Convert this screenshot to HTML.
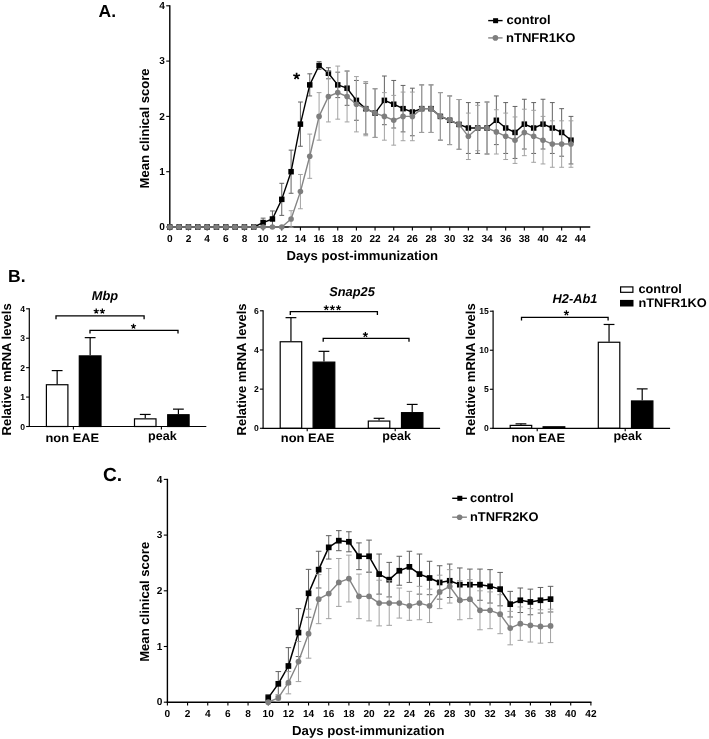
<!DOCTYPE html><html><head><meta charset="utf-8"><style>html,body{margin:0;padding:0;background:#fff;}svg{display:block;will-change:transform;}text{font-family:"Liberation Sans", sans-serif;text-rendering:geometricPrecision;}</style></head><body>
<svg width="709" height="739" viewBox="0 0 709 739">
<rect width="709" height="739" fill="#fff"/>
<text x="98.5" y="16.6" font-size="17.5" text-anchor="start" font-weight="bold">A.</text>
<line x1="169.8" y1="5.2" x2="169.8" y2="227.7" stroke="#000" stroke-width="1.4"/>
<line x1="169.1" y1="227" x2="590.25" y2="227" stroke="#000" stroke-width="1.4"/>
<line x1="166.2" y1="227" x2="169.8" y2="227" stroke="#000" stroke-width="1.1"/>
<text x="164.8" y="230.2" font-size="10.1" text-anchor="end" font-weight="bold">0</text>
<line x1="166.2" y1="171.7" x2="169.8" y2="171.7" stroke="#000" stroke-width="1.1"/>
<text x="164.8" y="174.9" font-size="10.1" text-anchor="end" font-weight="bold">1</text>
<line x1="166.2" y1="116.4" x2="169.8" y2="116.4" stroke="#000" stroke-width="1.1"/>
<text x="164.8" y="119.6" font-size="10.1" text-anchor="end" font-weight="bold">2</text>
<line x1="166.2" y1="61.1" x2="169.8" y2="61.1" stroke="#000" stroke-width="1.1"/>
<text x="164.8" y="64.3" font-size="10.1" text-anchor="end" font-weight="bold">3</text>
<line x1="166.2" y1="5.8" x2="169.8" y2="5.8" stroke="#000" stroke-width="1.1"/>
<text x="164.8" y="9" font-size="10.1" text-anchor="end" font-weight="bold">4</text>
<line x1="169.8" y1="227" x2="169.8" y2="230.4" stroke="#000" stroke-width="1.1"/>
<text x="169.8" y="241.8" font-size="10.1" text-anchor="middle" font-weight="bold">0</text>
<line x1="188.46" y1="227" x2="188.46" y2="230.4" stroke="#000" stroke-width="1.1"/>
<text x="188.46" y="241.8" font-size="10.1" text-anchor="middle" font-weight="bold">2</text>
<line x1="207.12" y1="227" x2="207.12" y2="230.4" stroke="#000" stroke-width="1.1"/>
<text x="207.12" y="241.8" font-size="10.1" text-anchor="middle" font-weight="bold">4</text>
<line x1="225.78" y1="227" x2="225.78" y2="230.4" stroke="#000" stroke-width="1.1"/>
<text x="225.78" y="241.8" font-size="10.1" text-anchor="middle" font-weight="bold">6</text>
<line x1="244.44" y1="227" x2="244.44" y2="230.4" stroke="#000" stroke-width="1.1"/>
<text x="244.44" y="241.8" font-size="10.1" text-anchor="middle" font-weight="bold">8</text>
<line x1="263.1" y1="227" x2="263.1" y2="230.4" stroke="#000" stroke-width="1.1"/>
<text x="263.1" y="241.8" font-size="10.1" text-anchor="middle" font-weight="bold">10</text>
<line x1="281.76" y1="227" x2="281.76" y2="230.4" stroke="#000" stroke-width="1.1"/>
<text x="281.76" y="241.8" font-size="10.1" text-anchor="middle" font-weight="bold">12</text>
<line x1="300.42" y1="227" x2="300.42" y2="230.4" stroke="#000" stroke-width="1.1"/>
<text x="300.42" y="241.8" font-size="10.1" text-anchor="middle" font-weight="bold">14</text>
<line x1="319.08" y1="227" x2="319.08" y2="230.4" stroke="#000" stroke-width="1.1"/>
<text x="319.08" y="241.8" font-size="10.1" text-anchor="middle" font-weight="bold">16</text>
<line x1="337.74" y1="227" x2="337.74" y2="230.4" stroke="#000" stroke-width="1.1"/>
<text x="337.74" y="241.8" font-size="10.1" text-anchor="middle" font-weight="bold">18</text>
<line x1="356.4" y1="227" x2="356.4" y2="230.4" stroke="#000" stroke-width="1.1"/>
<text x="356.4" y="241.8" font-size="10.1" text-anchor="middle" font-weight="bold">20</text>
<line x1="375.06" y1="227" x2="375.06" y2="230.4" stroke="#000" stroke-width="1.1"/>
<text x="375.06" y="241.8" font-size="10.1" text-anchor="middle" font-weight="bold">22</text>
<line x1="393.72" y1="227" x2="393.72" y2="230.4" stroke="#000" stroke-width="1.1"/>
<text x="393.72" y="241.8" font-size="10.1" text-anchor="middle" font-weight="bold">24</text>
<line x1="412.38" y1="227" x2="412.38" y2="230.4" stroke="#000" stroke-width="1.1"/>
<text x="412.38" y="241.8" font-size="10.1" text-anchor="middle" font-weight="bold">26</text>
<line x1="431.04" y1="227" x2="431.04" y2="230.4" stroke="#000" stroke-width="1.1"/>
<text x="431.04" y="241.8" font-size="10.1" text-anchor="middle" font-weight="bold">28</text>
<line x1="449.7" y1="227" x2="449.7" y2="230.4" stroke="#000" stroke-width="1.1"/>
<text x="449.7" y="241.8" font-size="10.1" text-anchor="middle" font-weight="bold">30</text>
<line x1="468.36" y1="227" x2="468.36" y2="230.4" stroke="#000" stroke-width="1.1"/>
<text x="468.36" y="241.8" font-size="10.1" text-anchor="middle" font-weight="bold">32</text>
<line x1="487.02" y1="227" x2="487.02" y2="230.4" stroke="#000" stroke-width="1.1"/>
<text x="487.02" y="241.8" font-size="10.1" text-anchor="middle" font-weight="bold">34</text>
<line x1="505.68" y1="227" x2="505.68" y2="230.4" stroke="#000" stroke-width="1.1"/>
<text x="505.68" y="241.8" font-size="10.1" text-anchor="middle" font-weight="bold">36</text>
<line x1="524.34" y1="227" x2="524.34" y2="230.4" stroke="#000" stroke-width="1.1"/>
<text x="524.34" y="241.8" font-size="10.1" text-anchor="middle" font-weight="bold">38</text>
<line x1="543" y1="227" x2="543" y2="230.4" stroke="#000" stroke-width="1.1"/>
<text x="543" y="241.8" font-size="10.1" text-anchor="middle" font-weight="bold">40</text>
<line x1="561.66" y1="227" x2="561.66" y2="230.4" stroke="#000" stroke-width="1.1"/>
<text x="561.66" y="241.8" font-size="10.1" text-anchor="middle" font-weight="bold">42</text>
<line x1="580.32" y1="227" x2="580.32" y2="230.4" stroke="#000" stroke-width="1.1"/>
<text x="580.32" y="241.8" font-size="10.1" text-anchor="middle" font-weight="bold">44</text>
<line x1="263.1" y1="218.15" x2="263.1" y2="227" stroke="#626262" stroke-width="1"/>
<line x1="260.7" y1="218.15" x2="265.5" y2="218.15" stroke="#626262" stroke-width="1"/>
<line x1="260.7" y1="227" x2="265.5" y2="227" stroke="#626262" stroke-width="1"/>
<line x1="272.43" y1="210.96" x2="272.43" y2="227" stroke="#626262" stroke-width="1"/>
<line x1="270.03" y1="210.96" x2="274.83" y2="210.96" stroke="#626262" stroke-width="1"/>
<line x1="270.03" y1="227" x2="274.83" y2="227" stroke="#626262" stroke-width="1"/>
<line x1="281.76" y1="183.31" x2="281.76" y2="215.39" stroke="#626262" stroke-width="1"/>
<line x1="279.36" y1="183.31" x2="284.16" y2="183.31" stroke="#626262" stroke-width="1"/>
<line x1="279.36" y1="215.39" x2="284.16" y2="215.39" stroke="#626262" stroke-width="1"/>
<line x1="291.09" y1="150.13" x2="291.09" y2="193.27" stroke="#626262" stroke-width="1"/>
<line x1="288.69" y1="150.13" x2="293.49" y2="150.13" stroke="#626262" stroke-width="1"/>
<line x1="288.69" y1="193.27" x2="293.49" y2="193.27" stroke="#626262" stroke-width="1"/>
<line x1="300.42" y1="102.02" x2="300.42" y2="146.26" stroke="#626262" stroke-width="1"/>
<line x1="298.02" y1="102.02" x2="302.82" y2="102.02" stroke="#626262" stroke-width="1"/>
<line x1="298.02" y1="146.26" x2="302.82" y2="146.26" stroke="#626262" stroke-width="1"/>
<line x1="309.75" y1="73.82" x2="309.75" y2="95.94" stroke="#626262" stroke-width="1"/>
<line x1="307.35" y1="73.82" x2="312.15" y2="73.82" stroke="#626262" stroke-width="1"/>
<line x1="307.35" y1="95.94" x2="312.15" y2="95.94" stroke="#626262" stroke-width="1"/>
<line x1="319.08" y1="61.65" x2="319.08" y2="69.39" stroke="#626262" stroke-width="1"/>
<line x1="316.68" y1="61.65" x2="321.48" y2="61.65" stroke="#626262" stroke-width="1"/>
<line x1="316.68" y1="69.39" x2="321.48" y2="69.39" stroke="#626262" stroke-width="1"/>
<line x1="328.41" y1="67.74" x2="328.41" y2="78.8" stroke="#626262" stroke-width="1"/>
<line x1="326.01" y1="67.74" x2="330.81" y2="67.74" stroke="#626262" stroke-width="1"/>
<line x1="326.01" y1="78.8" x2="330.81" y2="78.8" stroke="#626262" stroke-width="1"/>
<line x1="337.74" y1="72.16" x2="337.74" y2="97.6" stroke="#626262" stroke-width="1"/>
<line x1="335.34" y1="72.16" x2="340.14" y2="72.16" stroke="#626262" stroke-width="1"/>
<line x1="335.34" y1="97.6" x2="340.14" y2="97.6" stroke="#626262" stroke-width="1"/>
<line x1="347.07" y1="71.05" x2="347.07" y2="105.34" stroke="#626262" stroke-width="1"/>
<line x1="344.67" y1="71.05" x2="349.47" y2="71.05" stroke="#626262" stroke-width="1"/>
<line x1="344.67" y1="105.34" x2="349.47" y2="105.34" stroke="#626262" stroke-width="1"/>
<line x1="356.4" y1="80.45" x2="356.4" y2="120.27" stroke="#626262" stroke-width="1"/>
<line x1="354" y1="80.45" x2="358.8" y2="80.45" stroke="#626262" stroke-width="1"/>
<line x1="354" y1="120.27" x2="358.8" y2="120.27" stroke="#626262" stroke-width="1"/>
<line x1="365.73" y1="83.22" x2="365.73" y2="134.1" stroke="#626262" stroke-width="1"/>
<line x1="363.33" y1="83.22" x2="368.13" y2="83.22" stroke="#626262" stroke-width="1"/>
<line x1="363.33" y1="134.1" x2="368.13" y2="134.1" stroke="#626262" stroke-width="1"/>
<line x1="375.06" y1="88.75" x2="375.06" y2="137.41" stroke="#626262" stroke-width="1"/>
<line x1="372.66" y1="88.75" x2="377.46" y2="88.75" stroke="#626262" stroke-width="1"/>
<line x1="372.66" y1="137.41" x2="377.46" y2="137.41" stroke="#626262" stroke-width="1"/>
<line x1="384.39" y1="76.03" x2="384.39" y2="124.69" stroke="#626262" stroke-width="1"/>
<line x1="381.99" y1="76.03" x2="386.79" y2="76.03" stroke="#626262" stroke-width="1"/>
<line x1="381.99" y1="124.69" x2="386.79" y2="124.69" stroke="#626262" stroke-width="1"/>
<line x1="393.72" y1="80.45" x2="393.72" y2="128.01" stroke="#626262" stroke-width="1"/>
<line x1="391.32" y1="80.45" x2="396.12" y2="80.45" stroke="#626262" stroke-width="1"/>
<line x1="391.32" y1="128.01" x2="396.12" y2="128.01" stroke="#626262" stroke-width="1"/>
<line x1="403.05" y1="85.43" x2="403.05" y2="131.88" stroke="#626262" stroke-width="1"/>
<line x1="400.65" y1="85.43" x2="405.45" y2="85.43" stroke="#626262" stroke-width="1"/>
<line x1="400.65" y1="131.88" x2="405.45" y2="131.88" stroke="#626262" stroke-width="1"/>
<line x1="412.38" y1="88.2" x2="412.38" y2="135.75" stroke="#626262" stroke-width="1"/>
<line x1="409.98" y1="88.2" x2="414.78" y2="88.2" stroke="#626262" stroke-width="1"/>
<line x1="409.98" y1="135.75" x2="414.78" y2="135.75" stroke="#626262" stroke-width="1"/>
<line x1="421.71" y1="84.88" x2="421.71" y2="132.44" stroke="#626262" stroke-width="1"/>
<line x1="419.31" y1="84.88" x2="424.11" y2="84.88" stroke="#626262" stroke-width="1"/>
<line x1="419.31" y1="132.44" x2="424.11" y2="132.44" stroke="#626262" stroke-width="1"/>
<line x1="431.04" y1="84.88" x2="431.04" y2="132.44" stroke="#626262" stroke-width="1"/>
<line x1="428.64" y1="84.88" x2="433.44" y2="84.88" stroke="#626262" stroke-width="1"/>
<line x1="428.64" y1="132.44" x2="433.44" y2="132.44" stroke="#626262" stroke-width="1"/>
<line x1="440.37" y1="92.62" x2="440.37" y2="140.18" stroke="#626262" stroke-width="1"/>
<line x1="437.97" y1="92.62" x2="442.77" y2="92.62" stroke="#626262" stroke-width="1"/>
<line x1="437.97" y1="140.18" x2="442.77" y2="140.18" stroke="#626262" stroke-width="1"/>
<line x1="449.7" y1="95.94" x2="449.7" y2="144.6" stroke="#626262" stroke-width="1"/>
<line x1="447.3" y1="95.94" x2="452.1" y2="95.94" stroke="#626262" stroke-width="1"/>
<line x1="447.3" y1="144.6" x2="452.1" y2="144.6" stroke="#626262" stroke-width="1"/>
<line x1="459.03" y1="99.53" x2="459.03" y2="149.3" stroke="#626262" stroke-width="1"/>
<line x1="456.63" y1="99.53" x2="461.43" y2="99.53" stroke="#626262" stroke-width="1"/>
<line x1="456.63" y1="149.3" x2="461.43" y2="149.3" stroke="#626262" stroke-width="1"/>
<line x1="468.36" y1="102.58" x2="468.36" y2="153.45" stroke="#626262" stroke-width="1"/>
<line x1="465.96" y1="102.58" x2="470.76" y2="102.58" stroke="#626262" stroke-width="1"/>
<line x1="465.96" y1="153.45" x2="470.76" y2="153.45" stroke="#626262" stroke-width="1"/>
<line x1="477.69" y1="102.58" x2="477.69" y2="153.45" stroke="#626262" stroke-width="1"/>
<line x1="475.29" y1="102.58" x2="480.09" y2="102.58" stroke="#626262" stroke-width="1"/>
<line x1="475.29" y1="153.45" x2="480.09" y2="153.45" stroke="#626262" stroke-width="1"/>
<line x1="487.02" y1="102.02" x2="487.02" y2="154" stroke="#626262" stroke-width="1"/>
<line x1="484.62" y1="102.02" x2="489.42" y2="102.02" stroke="#626262" stroke-width="1"/>
<line x1="484.62" y1="154" x2="489.42" y2="154" stroke="#626262" stroke-width="1"/>
<line x1="496.35" y1="95.94" x2="496.35" y2="144.6" stroke="#626262" stroke-width="1"/>
<line x1="493.95" y1="95.94" x2="498.75" y2="95.94" stroke="#626262" stroke-width="1"/>
<line x1="493.95" y1="144.6" x2="498.75" y2="144.6" stroke="#626262" stroke-width="1"/>
<line x1="505.68" y1="102.58" x2="505.68" y2="153.45" stroke="#626262" stroke-width="1"/>
<line x1="503.28" y1="102.58" x2="508.08" y2="102.58" stroke="#626262" stroke-width="1"/>
<line x1="503.28" y1="153.45" x2="508.08" y2="153.45" stroke="#626262" stroke-width="1"/>
<line x1="515.01" y1="106.45" x2="515.01" y2="158.43" stroke="#626262" stroke-width="1"/>
<line x1="512.61" y1="106.45" x2="517.41" y2="106.45" stroke="#626262" stroke-width="1"/>
<line x1="512.61" y1="158.43" x2="517.41" y2="158.43" stroke="#626262" stroke-width="1"/>
<line x1="524.34" y1="99.26" x2="524.34" y2="149.03" stroke="#626262" stroke-width="1"/>
<line x1="521.94" y1="99.26" x2="526.74" y2="99.26" stroke="#626262" stroke-width="1"/>
<line x1="521.94" y1="149.03" x2="526.74" y2="149.03" stroke="#626262" stroke-width="1"/>
<line x1="533.67" y1="102.58" x2="533.67" y2="153.45" stroke="#626262" stroke-width="1"/>
<line x1="531.27" y1="102.58" x2="536.07" y2="102.58" stroke="#626262" stroke-width="1"/>
<line x1="531.27" y1="153.45" x2="536.07" y2="153.45" stroke="#626262" stroke-width="1"/>
<line x1="543" y1="99.26" x2="543" y2="149.03" stroke="#626262" stroke-width="1"/>
<line x1="540.6" y1="99.26" x2="545.4" y2="99.26" stroke="#626262" stroke-width="1"/>
<line x1="540.6" y1="149.03" x2="545.4" y2="149.03" stroke="#626262" stroke-width="1"/>
<line x1="552.33" y1="102.58" x2="552.33" y2="153.45" stroke="#626262" stroke-width="1"/>
<line x1="549.93" y1="102.58" x2="554.73" y2="102.58" stroke="#626262" stroke-width="1"/>
<line x1="549.93" y1="153.45" x2="554.73" y2="153.45" stroke="#626262" stroke-width="1"/>
<line x1="561.66" y1="108.66" x2="561.66" y2="156.22" stroke="#626262" stroke-width="1"/>
<line x1="559.26" y1="108.66" x2="564.06" y2="108.66" stroke="#626262" stroke-width="1"/>
<line x1="559.26" y1="156.22" x2="564.06" y2="156.22" stroke="#626262" stroke-width="1"/>
<line x1="570.99" y1="116.4" x2="570.99" y2="163.96" stroke="#626262" stroke-width="1"/>
<line x1="568.59" y1="116.4" x2="573.39" y2="116.4" stroke="#626262" stroke-width="1"/>
<line x1="568.59" y1="163.96" x2="573.39" y2="163.96" stroke="#626262" stroke-width="1"/>
<polyline points="169.8,227 179.13,227 188.46,227 197.79,227 207.12,227 216.45,227 225.78,227 235.11,227 244.44,227 253.77,227 263.1,222.58 272.43,218.98 281.76,199.35 291.09,171.7 300.42,124.14 309.75,84.88 319.08,65.52 328.41,73.27 337.74,84.88 347.07,88.2 356.4,100.36 365.73,108.66 375.06,113.08 384.39,100.36 393.72,104.23 403.05,108.66 412.38,111.98 421.71,108.66 431.04,108.66 440.37,116.4 449.7,120.27 459.03,124.42 468.36,128.01 477.69,128.01 487.02,128.01 496.35,120.27 505.68,128.01 515.01,132.44 524.34,124.14 533.67,128.01 543,124.14 552.33,128.01 561.66,132.44 570.99,140.18" fill="none" stroke="#000" stroke-width="1.4" stroke-linejoin="round"/>
<rect x="167.05" y="224.25" width="5.5" height="5.5" fill="#000"/>
<rect x="176.38" y="224.25" width="5.5" height="5.5" fill="#000"/>
<rect x="185.71" y="224.25" width="5.5" height="5.5" fill="#000"/>
<rect x="195.04" y="224.25" width="5.5" height="5.5" fill="#000"/>
<rect x="204.37" y="224.25" width="5.5" height="5.5" fill="#000"/>
<rect x="213.7" y="224.25" width="5.5" height="5.5" fill="#000"/>
<rect x="223.03" y="224.25" width="5.5" height="5.5" fill="#000"/>
<rect x="232.36" y="224.25" width="5.5" height="5.5" fill="#000"/>
<rect x="241.69" y="224.25" width="5.5" height="5.5" fill="#000"/>
<rect x="251.02" y="224.25" width="5.5" height="5.5" fill="#000"/>
<rect x="260.35" y="219.83" width="5.5" height="5.5" fill="#000"/>
<rect x="269.68" y="216.23" width="5.5" height="5.5" fill="#000"/>
<rect x="279.01" y="196.6" width="5.5" height="5.5" fill="#000"/>
<rect x="288.34" y="168.95" width="5.5" height="5.5" fill="#000"/>
<rect x="297.67" y="121.39" width="5.5" height="5.5" fill="#000"/>
<rect x="307" y="82.13" width="5.5" height="5.5" fill="#000"/>
<rect x="316.33" y="62.77" width="5.5" height="5.5" fill="#000"/>
<rect x="325.66" y="70.52" width="5.5" height="5.5" fill="#000"/>
<rect x="334.99" y="82.13" width="5.5" height="5.5" fill="#000"/>
<rect x="344.32" y="85.45" width="5.5" height="5.5" fill="#000"/>
<rect x="353.65" y="97.61" width="5.5" height="5.5" fill="#000"/>
<rect x="362.98" y="105.91" width="5.5" height="5.5" fill="#000"/>
<rect x="372.31" y="110.33" width="5.5" height="5.5" fill="#000"/>
<rect x="381.64" y="97.61" width="5.5" height="5.5" fill="#000"/>
<rect x="390.97" y="101.48" width="5.5" height="5.5" fill="#000"/>
<rect x="400.3" y="105.91" width="5.5" height="5.5" fill="#000"/>
<rect x="409.63" y="109.23" width="5.5" height="5.5" fill="#000"/>
<rect x="418.96" y="105.91" width="5.5" height="5.5" fill="#000"/>
<rect x="428.29" y="105.91" width="5.5" height="5.5" fill="#000"/>
<rect x="437.62" y="113.65" width="5.5" height="5.5" fill="#000"/>
<rect x="446.95" y="117.52" width="5.5" height="5.5" fill="#000"/>
<rect x="456.28" y="121.67" width="5.5" height="5.5" fill="#000"/>
<rect x="465.61" y="125.26" width="5.5" height="5.5" fill="#000"/>
<rect x="474.94" y="125.26" width="5.5" height="5.5" fill="#000"/>
<rect x="484.27" y="125.26" width="5.5" height="5.5" fill="#000"/>
<rect x="493.6" y="117.52" width="5.5" height="5.5" fill="#000"/>
<rect x="502.93" y="125.26" width="5.5" height="5.5" fill="#000"/>
<rect x="512.26" y="129.69" width="5.5" height="5.5" fill="#000"/>
<rect x="521.59" y="121.39" width="5.5" height="5.5" fill="#000"/>
<rect x="530.92" y="125.26" width="5.5" height="5.5" fill="#000"/>
<rect x="540.25" y="121.39" width="5.5" height="5.5" fill="#000"/>
<rect x="549.58" y="125.26" width="5.5" height="5.5" fill="#000"/>
<rect x="558.91" y="129.69" width="5.5" height="5.5" fill="#000"/>
<rect x="568.24" y="137.43" width="5.5" height="5.5" fill="#000"/>
<line x1="291.09" y1="210.69" x2="291.09" y2="227.28" stroke="#a2a2a2" stroke-width="1"/>
<line x1="288.69" y1="210.69" x2="293.49" y2="210.69" stroke="#a2a2a2" stroke-width="1"/>
<line x1="288.69" y1="227.28" x2="293.49" y2="227.28" stroke="#a2a2a2" stroke-width="1"/>
<line x1="300.42" y1="174.47" x2="300.42" y2="208.75" stroke="#a2a2a2" stroke-width="1"/>
<line x1="298.02" y1="174.47" x2="302.82" y2="174.47" stroke="#a2a2a2" stroke-width="1"/>
<line x1="298.02" y1="208.75" x2="302.82" y2="208.75" stroke="#a2a2a2" stroke-width="1"/>
<line x1="309.75" y1="134.1" x2="309.75" y2="178.34" stroke="#a2a2a2" stroke-width="1"/>
<line x1="307.35" y1="134.1" x2="312.15" y2="134.1" stroke="#a2a2a2" stroke-width="1"/>
<line x1="307.35" y1="178.34" x2="312.15" y2="178.34" stroke="#a2a2a2" stroke-width="1"/>
<line x1="319.08" y1="92.62" x2="319.08" y2="140.18" stroke="#a2a2a2" stroke-width="1"/>
<line x1="316.68" y1="92.62" x2="321.48" y2="92.62" stroke="#a2a2a2" stroke-width="1"/>
<line x1="316.68" y1="140.18" x2="321.48" y2="140.18" stroke="#a2a2a2" stroke-width="1"/>
<line x1="328.41" y1="71.05" x2="328.41" y2="121.93" stroke="#a2a2a2" stroke-width="1"/>
<line x1="326.01" y1="71.05" x2="330.81" y2="71.05" stroke="#a2a2a2" stroke-width="1"/>
<line x1="326.01" y1="121.93" x2="330.81" y2="121.93" stroke="#a2a2a2" stroke-width="1"/>
<line x1="337.74" y1="66.08" x2="337.74" y2="119.17" stroke="#a2a2a2" stroke-width="1"/>
<line x1="335.34" y1="66.08" x2="340.14" y2="66.08" stroke="#a2a2a2" stroke-width="1"/>
<line x1="335.34" y1="119.17" x2="340.14" y2="119.17" stroke="#a2a2a2" stroke-width="1"/>
<line x1="347.07" y1="71.05" x2="347.07" y2="121.93" stroke="#a2a2a2" stroke-width="1"/>
<line x1="344.67" y1="71.05" x2="349.47" y2="71.05" stroke="#a2a2a2" stroke-width="1"/>
<line x1="344.67" y1="121.93" x2="349.47" y2="121.93" stroke="#a2a2a2" stroke-width="1"/>
<line x1="356.4" y1="76.58" x2="356.4" y2="131.88" stroke="#a2a2a2" stroke-width="1"/>
<line x1="354" y1="76.58" x2="358.8" y2="76.58" stroke="#a2a2a2" stroke-width="1"/>
<line x1="354" y1="131.88" x2="358.8" y2="131.88" stroke="#a2a2a2" stroke-width="1"/>
<line x1="365.73" y1="81.56" x2="365.73" y2="135.75" stroke="#a2a2a2" stroke-width="1"/>
<line x1="363.33" y1="81.56" x2="368.13" y2="81.56" stroke="#a2a2a2" stroke-width="1"/>
<line x1="363.33" y1="135.75" x2="368.13" y2="135.75" stroke="#a2a2a2" stroke-width="1"/>
<line x1="375.06" y1="88.75" x2="375.06" y2="137.41" stroke="#a2a2a2" stroke-width="1"/>
<line x1="372.66" y1="88.75" x2="377.46" y2="88.75" stroke="#a2a2a2" stroke-width="1"/>
<line x1="372.66" y1="137.41" x2="377.46" y2="137.41" stroke="#a2a2a2" stroke-width="1"/>
<line x1="384.39" y1="92.62" x2="384.39" y2="140.18" stroke="#a2a2a2" stroke-width="1"/>
<line x1="381.99" y1="92.62" x2="386.79" y2="92.62" stroke="#a2a2a2" stroke-width="1"/>
<line x1="381.99" y1="140.18" x2="386.79" y2="140.18" stroke="#a2a2a2" stroke-width="1"/>
<line x1="393.72" y1="95.39" x2="393.72" y2="145.16" stroke="#a2a2a2" stroke-width="1"/>
<line x1="391.32" y1="95.39" x2="396.12" y2="95.39" stroke="#a2a2a2" stroke-width="1"/>
<line x1="391.32" y1="145.16" x2="396.12" y2="145.16" stroke="#a2a2a2" stroke-width="1"/>
<line x1="403.05" y1="92.07" x2="403.05" y2="140.73" stroke="#a2a2a2" stroke-width="1"/>
<line x1="400.65" y1="92.07" x2="405.45" y2="92.07" stroke="#a2a2a2" stroke-width="1"/>
<line x1="400.65" y1="140.73" x2="405.45" y2="140.73" stroke="#a2a2a2" stroke-width="1"/>
<line x1="412.38" y1="92.07" x2="412.38" y2="140.73" stroke="#a2a2a2" stroke-width="1"/>
<line x1="409.98" y1="92.07" x2="414.78" y2="92.07" stroke="#a2a2a2" stroke-width="1"/>
<line x1="409.98" y1="140.73" x2="414.78" y2="140.73" stroke="#a2a2a2" stroke-width="1"/>
<line x1="421.71" y1="84.88" x2="421.71" y2="132.44" stroke="#a2a2a2" stroke-width="1"/>
<line x1="419.31" y1="84.88" x2="424.11" y2="84.88" stroke="#a2a2a2" stroke-width="1"/>
<line x1="419.31" y1="132.44" x2="424.11" y2="132.44" stroke="#a2a2a2" stroke-width="1"/>
<line x1="431.04" y1="84.88" x2="431.04" y2="132.44" stroke="#a2a2a2" stroke-width="1"/>
<line x1="428.64" y1="84.88" x2="433.44" y2="84.88" stroke="#a2a2a2" stroke-width="1"/>
<line x1="428.64" y1="132.44" x2="433.44" y2="132.44" stroke="#a2a2a2" stroke-width="1"/>
<line x1="440.37" y1="92.62" x2="440.37" y2="140.18" stroke="#a2a2a2" stroke-width="1"/>
<line x1="437.97" y1="92.62" x2="442.77" y2="92.62" stroke="#a2a2a2" stroke-width="1"/>
<line x1="437.97" y1="140.18" x2="442.77" y2="140.18" stroke="#a2a2a2" stroke-width="1"/>
<line x1="449.7" y1="95.94" x2="449.7" y2="144.6" stroke="#a2a2a2" stroke-width="1"/>
<line x1="447.3" y1="95.94" x2="452.1" y2="95.94" stroke="#a2a2a2" stroke-width="1"/>
<line x1="447.3" y1="144.6" x2="452.1" y2="144.6" stroke="#a2a2a2" stroke-width="1"/>
<line x1="459.03" y1="99.53" x2="459.03" y2="149.3" stroke="#a2a2a2" stroke-width="1"/>
<line x1="456.63" y1="99.53" x2="461.43" y2="99.53" stroke="#a2a2a2" stroke-width="1"/>
<line x1="456.63" y1="149.3" x2="461.43" y2="149.3" stroke="#a2a2a2" stroke-width="1"/>
<line x1="468.36" y1="113.08" x2="468.36" y2="159.53" stroke="#a2a2a2" stroke-width="1"/>
<line x1="465.96" y1="113.08" x2="470.76" y2="113.08" stroke="#a2a2a2" stroke-width="1"/>
<line x1="465.96" y1="159.53" x2="470.76" y2="159.53" stroke="#a2a2a2" stroke-width="1"/>
<line x1="477.69" y1="105.34" x2="477.69" y2="150.69" stroke="#a2a2a2" stroke-width="1"/>
<line x1="475.29" y1="105.34" x2="480.09" y2="105.34" stroke="#a2a2a2" stroke-width="1"/>
<line x1="475.29" y1="150.69" x2="480.09" y2="150.69" stroke="#a2a2a2" stroke-width="1"/>
<line x1="487.02" y1="102.02" x2="487.02" y2="154" stroke="#a2a2a2" stroke-width="1"/>
<line x1="484.62" y1="102.02" x2="489.42" y2="102.02" stroke="#a2a2a2" stroke-width="1"/>
<line x1="484.62" y1="154" x2="489.42" y2="154" stroke="#a2a2a2" stroke-width="1"/>
<line x1="496.35" y1="109.76" x2="496.35" y2="154" stroke="#a2a2a2" stroke-width="1"/>
<line x1="493.95" y1="109.76" x2="498.75" y2="109.76" stroke="#a2a2a2" stroke-width="1"/>
<line x1="493.95" y1="154" x2="498.75" y2="154" stroke="#a2a2a2" stroke-width="1"/>
<line x1="505.68" y1="113.08" x2="505.68" y2="159.53" stroke="#a2a2a2" stroke-width="1"/>
<line x1="503.28" y1="113.08" x2="508.08" y2="113.08" stroke="#a2a2a2" stroke-width="1"/>
<line x1="503.28" y1="159.53" x2="508.08" y2="159.53" stroke="#a2a2a2" stroke-width="1"/>
<line x1="515.01" y1="116.95" x2="515.01" y2="163.41" stroke="#a2a2a2" stroke-width="1"/>
<line x1="512.61" y1="116.95" x2="517.41" y2="116.95" stroke="#a2a2a2" stroke-width="1"/>
<line x1="512.61" y1="163.41" x2="517.41" y2="163.41" stroke="#a2a2a2" stroke-width="1"/>
<line x1="524.34" y1="109.21" x2="524.34" y2="155.66" stroke="#a2a2a2" stroke-width="1"/>
<line x1="521.94" y1="109.21" x2="526.74" y2="109.21" stroke="#a2a2a2" stroke-width="1"/>
<line x1="521.94" y1="155.66" x2="526.74" y2="155.66" stroke="#a2a2a2" stroke-width="1"/>
<line x1="533.67" y1="110.32" x2="533.67" y2="162.3" stroke="#a2a2a2" stroke-width="1"/>
<line x1="531.27" y1="110.32" x2="536.07" y2="110.32" stroke="#a2a2a2" stroke-width="1"/>
<line x1="531.27" y1="162.3" x2="536.07" y2="162.3" stroke="#a2a2a2" stroke-width="1"/>
<line x1="543" y1="116.4" x2="543" y2="163.96" stroke="#a2a2a2" stroke-width="1"/>
<line x1="540.6" y1="116.4" x2="545.4" y2="116.4" stroke="#a2a2a2" stroke-width="1"/>
<line x1="540.6" y1="163.96" x2="545.4" y2="163.96" stroke="#a2a2a2" stroke-width="1"/>
<line x1="552.33" y1="120.82" x2="552.33" y2="167.28" stroke="#a2a2a2" stroke-width="1"/>
<line x1="549.93" y1="120.82" x2="554.73" y2="120.82" stroke="#a2a2a2" stroke-width="1"/>
<line x1="549.93" y1="167.28" x2="554.73" y2="167.28" stroke="#a2a2a2" stroke-width="1"/>
<line x1="561.66" y1="120.82" x2="561.66" y2="167.28" stroke="#a2a2a2" stroke-width="1"/>
<line x1="559.26" y1="120.82" x2="564.06" y2="120.82" stroke="#a2a2a2" stroke-width="1"/>
<line x1="559.26" y1="167.28" x2="564.06" y2="167.28" stroke="#a2a2a2" stroke-width="1"/>
<line x1="570.99" y1="120.82" x2="570.99" y2="167.28" stroke="#a2a2a2" stroke-width="1"/>
<line x1="568.59" y1="120.82" x2="573.39" y2="120.82" stroke="#a2a2a2" stroke-width="1"/>
<line x1="568.59" y1="167.28" x2="573.39" y2="167.28" stroke="#a2a2a2" stroke-width="1"/>
<polyline points="169.8,227 179.13,227 188.46,227 197.79,227 207.12,227 216.45,227 225.78,227 235.11,227 244.44,227 253.77,227 263.1,227 272.43,227 281.76,227 291.09,218.98 300.42,191.61 309.75,156.22 319.08,116.4 328.41,96.49 337.74,92.62 347.07,96.49 356.4,104.23 365.73,108.66 375.06,113.08 384.39,116.4 393.72,120.27 403.05,116.4 412.38,116.4 421.71,108.66 431.04,108.66 440.37,116.4 449.7,120.27 459.03,124.42 468.36,136.31 477.69,128.01 487.02,128.01 496.35,131.88 505.68,136.31 515.01,140.18 524.34,132.44 533.67,136.31 543,140.18 552.33,144.05 561.66,144.05 570.99,144.05" fill="none" stroke="#848484" stroke-width="1.4" stroke-linejoin="round"/>
<circle cx="169.8" cy="227" r="2.8" fill="#7e7e7e"/>
<circle cx="179.13" cy="227" r="2.8" fill="#7e7e7e"/>
<circle cx="188.46" cy="227" r="2.8" fill="#7e7e7e"/>
<circle cx="197.79" cy="227" r="2.8" fill="#7e7e7e"/>
<circle cx="207.12" cy="227" r="2.8" fill="#7e7e7e"/>
<circle cx="216.45" cy="227" r="2.8" fill="#7e7e7e"/>
<circle cx="225.78" cy="227" r="2.8" fill="#7e7e7e"/>
<circle cx="235.11" cy="227" r="2.8" fill="#7e7e7e"/>
<circle cx="244.44" cy="227" r="2.8" fill="#7e7e7e"/>
<circle cx="253.77" cy="227" r="2.8" fill="#7e7e7e"/>
<circle cx="263.1" cy="227" r="2.8" fill="#7e7e7e"/>
<circle cx="272.43" cy="227" r="2.8" fill="#7e7e7e"/>
<circle cx="281.76" cy="227" r="2.8" fill="#7e7e7e"/>
<circle cx="291.09" cy="218.98" r="2.8" fill="#7e7e7e"/>
<circle cx="300.42" cy="191.61" r="2.8" fill="#7e7e7e"/>
<circle cx="309.75" cy="156.22" r="2.8" fill="#7e7e7e"/>
<circle cx="319.08" cy="116.4" r="2.8" fill="#7e7e7e"/>
<circle cx="328.41" cy="96.49" r="2.8" fill="#7e7e7e"/>
<circle cx="337.74" cy="92.62" r="2.8" fill="#7e7e7e"/>
<circle cx="347.07" cy="96.49" r="2.8" fill="#7e7e7e"/>
<circle cx="356.4" cy="104.23" r="2.8" fill="#7e7e7e"/>
<circle cx="365.73" cy="108.66" r="2.8" fill="#7e7e7e"/>
<circle cx="375.06" cy="113.08" r="2.8" fill="#7e7e7e"/>
<circle cx="384.39" cy="116.4" r="2.8" fill="#7e7e7e"/>
<circle cx="393.72" cy="120.27" r="2.8" fill="#7e7e7e"/>
<circle cx="403.05" cy="116.4" r="2.8" fill="#7e7e7e"/>
<circle cx="412.38" cy="116.4" r="2.8" fill="#7e7e7e"/>
<circle cx="421.71" cy="108.66" r="2.8" fill="#7e7e7e"/>
<circle cx="431.04" cy="108.66" r="2.8" fill="#7e7e7e"/>
<circle cx="440.37" cy="116.4" r="2.8" fill="#7e7e7e"/>
<circle cx="449.7" cy="120.27" r="2.8" fill="#7e7e7e"/>
<circle cx="459.03" cy="124.42" r="2.8" fill="#7e7e7e"/>
<circle cx="468.36" cy="136.31" r="2.8" fill="#7e7e7e"/>
<circle cx="477.69" cy="128.01" r="2.8" fill="#7e7e7e"/>
<circle cx="487.02" cy="128.01" r="2.8" fill="#7e7e7e"/>
<circle cx="496.35" cy="131.88" r="2.8" fill="#7e7e7e"/>
<circle cx="505.68" cy="136.31" r="2.8" fill="#7e7e7e"/>
<circle cx="515.01" cy="140.18" r="2.8" fill="#7e7e7e"/>
<circle cx="524.34" cy="132.44" r="2.8" fill="#7e7e7e"/>
<circle cx="533.67" cy="136.31" r="2.8" fill="#7e7e7e"/>
<circle cx="543" cy="140.18" r="2.8" fill="#7e7e7e"/>
<circle cx="552.33" cy="144.05" r="2.8" fill="#7e7e7e"/>
<circle cx="561.66" cy="144.05" r="2.8" fill="#7e7e7e"/>
<circle cx="570.99" cy="144.05" r="2.8" fill="#7e7e7e"/>
<text x="148.8" y="128.4" font-size="13" text-anchor="middle" font-weight="bold" textLength="120" lengthAdjust="spacingAndGlyphs" transform="rotate(-90 148.8 128.4)">Mean clinical score</text>
<text x="286.5" y="259.8" font-size="13" text-anchor="start" font-weight="bold" textLength="151.5" lengthAdjust="spacingAndGlyphs">Days post-immunization</text>
<path d="M296.6 76.13L296.6 72.63M296.6 76.13L299.93 75.05M296.6 76.13L298.66 78.96M296.6 76.13L294.54 78.96M296.6 76.13L293.27 75.05" stroke="#000" stroke-width="1.7" stroke-linecap="butt" fill="none"/>
<line x1="488.2" y1="20.6" x2="502.6" y2="20.6" stroke="#000" stroke-width="1.4"/>
<rect x="493.1" y="18.2" width="5" height="5" fill="#000"/>
<line x1="488.2" y1="37.9" x2="502.6" y2="37.9" stroke="#848484" stroke-width="1.4"/>
<circle cx="495.4" cy="37.9" r="2.8" fill="#7e7e7e"/>
<text x="506.6" y="24.1" font-size="12.6" text-anchor="start" font-weight="bold" textLength="44" lengthAdjust="spacingAndGlyphs">control</text>
<text x="506" y="42" font-size="12.6" text-anchor="start" font-weight="bold" textLength="69.5" lengthAdjust="spacingAndGlyphs">nTNFR1KO</text>
<text x="8" y="281.7" font-size="17.5" text-anchor="start" font-weight="bold">B.</text>
<line x1="57.15" y1="370.59" x2="57.15" y2="384.13" stroke="#000" stroke-width="1.2"/>
<line x1="51.75" y1="370.59" x2="62.55" y2="370.59" stroke="#000" stroke-width="1.2"/>
<rect x="46.4" y="384.73" width="21.5" height="41.77" fill="#fff" stroke="#000" stroke-width="1.2"/>
<line x1="90.15" y1="337.64" x2="90.15" y2="355.29" stroke="#000" stroke-width="1.2"/>
<line x1="84.75" y1="337.64" x2="95.55" y2="337.64" stroke="#000" stroke-width="1.2"/>
<rect x="79.3" y="355.89" width="21.7" height="70.61" fill="#000" stroke="#000" stroke-width="1.2"/>
<line x1="145.25" y1="414.44" x2="145.25" y2="418.26" stroke="#000" stroke-width="1.2"/>
<line x1="139.85" y1="414.44" x2="150.65" y2="414.44" stroke="#000" stroke-width="1.2"/>
<rect x="134.5" y="418.86" width="21.5" height="7.64" fill="#fff" stroke="#000" stroke-width="1.2"/>
<line x1="178.4" y1="409.14" x2="178.4" y2="414.14" stroke="#000" stroke-width="1.2"/>
<line x1="173" y1="409.14" x2="183.8" y2="409.14" stroke="#000" stroke-width="1.2"/>
<rect x="167.7" y="414.74" width="21.4" height="11.76" fill="#000" stroke="#000" stroke-width="1.2"/>
<line x1="29.3" y1="308.2" x2="29.3" y2="427.1" stroke="#000" stroke-width="1.2"/>
<line x1="28.7" y1="426.5" x2="206.3" y2="426.5" stroke="#000" stroke-width="1.2"/>
<line x1="26.1" y1="426.5" x2="29.3" y2="426.5" stroke="#000" stroke-width="1.1"/>
<text x="25" y="429.6" font-size="8.6" text-anchor="end" font-weight="bold">0</text>
<line x1="26.1" y1="397.07" x2="29.3" y2="397.07" stroke="#000" stroke-width="1.1"/>
<text x="25" y="400.18" font-size="8.6" text-anchor="end" font-weight="bold">1</text>
<line x1="26.1" y1="367.65" x2="29.3" y2="367.65" stroke="#000" stroke-width="1.1"/>
<text x="25" y="370.75" font-size="8.6" text-anchor="end" font-weight="bold">2</text>
<line x1="26.1" y1="338.23" x2="29.3" y2="338.23" stroke="#000" stroke-width="1.1"/>
<text x="25" y="341.33" font-size="8.6" text-anchor="end" font-weight="bold">3</text>
<line x1="26.1" y1="308.8" x2="29.3" y2="308.8" stroke="#000" stroke-width="1.1"/>
<text x="25" y="311.9" font-size="8.6" text-anchor="end" font-weight="bold">4</text>
<line x1="73.4" y1="426.5" x2="73.4" y2="429.5" stroke="#000" stroke-width="1.1"/>
<line x1="161.4" y1="426.5" x2="161.4" y2="429.5" stroke="#000" stroke-width="1.1"/>
<text x="72.3" y="441.8" font-size="12.2" text-anchor="middle" font-weight="bold" textLength="53.6" lengthAdjust="spacingAndGlyphs">non EAE</text>
<text x="162.4" y="440.1" font-size="12.5" text-anchor="middle" font-weight="bold" textLength="28.6" lengthAdjust="spacingAndGlyphs">peak</text>
<text x="10.9" y="369.4" font-size="13" text-anchor="middle" font-weight="bold" textLength="132" lengthAdjust="spacingAndGlyphs" transform="rotate(-90 10.9 369.4)">Relative mRNA levels</text>
<text x="105" y="300" font-size="12.8" text-anchor="middle" font-weight="bold" font-style="italic">Mbp</text>
<polyline points="56,319.2 56,315.9 144.1,315.9 144.1,319.2" fill="none" stroke="#000" stroke-width="1.3"/>
<path d="M96.23 311.25L96.23 308.6M96.23 311.25L98.76 310.43M96.23 311.25L97.79 313.4M96.23 311.25L94.68 313.4M96.23 311.25L93.71 310.43" stroke="#000" stroke-width="1.25" stroke-linecap="butt" fill="none"/>
<path d="M102.36 311.25L102.36 308.6M102.36 311.25L104.89 310.43M102.36 311.25L103.92 313.4M102.36 311.25L100.81 313.4M102.36 311.25L99.84 310.43" stroke="#000" stroke-width="1.25" stroke-linecap="butt" fill="none"/>
<polyline points="90,333.6 90,330.3 178,330.3 178,333.6" fill="none" stroke="#000" stroke-width="1.3"/>
<path d="M133.5 326.35L133.5 323.7M133.5 326.35L136.02 325.53M133.5 326.35L135.06 328.5M133.5 326.35L131.94 328.5M133.5 326.35L130.98 325.53" stroke="#000" stroke-width="1.25" stroke-linecap="butt" fill="none"/>
<line x1="290.95" y1="317.65" x2="290.95" y2="341.15" stroke="#000" stroke-width="1.2"/>
<line x1="285.55" y1="317.65" x2="296.35" y2="317.65" stroke="#000" stroke-width="1.2"/>
<rect x="280.2" y="341.75" width="21.5" height="86.55" fill="#fff" stroke="#000" stroke-width="1.2"/>
<line x1="323.95" y1="351.34" x2="323.95" y2="361.52" stroke="#000" stroke-width="1.2"/>
<line x1="318.55" y1="351.34" x2="329.35" y2="351.34" stroke="#000" stroke-width="1.2"/>
<rect x="313.1" y="362.12" width="21.7" height="66.18" fill="#000" stroke="#000" stroke-width="1.2"/>
<line x1="379.05" y1="418.31" x2="379.05" y2="420.47" stroke="#000" stroke-width="1.2"/>
<line x1="373.65" y1="418.31" x2="384.45" y2="418.31" stroke="#000" stroke-width="1.2"/>
<rect x="368.3" y="421.07" width="21.5" height="7.23" fill="#fff" stroke="#000" stroke-width="1.2"/>
<line x1="412.2" y1="404.41" x2="412.2" y2="412.05" stroke="#000" stroke-width="1.2"/>
<line x1="406.8" y1="404.41" x2="417.6" y2="404.41" stroke="#000" stroke-width="1.2"/>
<rect x="401.5" y="412.65" width="21.4" height="15.65" fill="#000" stroke="#000" stroke-width="1.2"/>
<line x1="263.1" y1="310.2" x2="263.1" y2="428.9" stroke="#000" stroke-width="1.2"/>
<line x1="262.5" y1="428.3" x2="440.1" y2="428.3" stroke="#000" stroke-width="1.2"/>
<line x1="259.9" y1="428.3" x2="263.1" y2="428.3" stroke="#000" stroke-width="1.1"/>
<text x="258.8" y="431.4" font-size="8.6" text-anchor="end" font-weight="bold">0</text>
<line x1="259.9" y1="389.13" x2="263.1" y2="389.13" stroke="#000" stroke-width="1.1"/>
<text x="258.8" y="392.23" font-size="8.6" text-anchor="end" font-weight="bold">2</text>
<line x1="259.9" y1="349.97" x2="263.1" y2="349.97" stroke="#000" stroke-width="1.1"/>
<text x="258.8" y="353.07" font-size="8.6" text-anchor="end" font-weight="bold">4</text>
<line x1="259.9" y1="310.8" x2="263.1" y2="310.8" stroke="#000" stroke-width="1.1"/>
<text x="258.8" y="313.9" font-size="8.6" text-anchor="end" font-weight="bold">6</text>
<line x1="307.2" y1="428.3" x2="307.2" y2="431.3" stroke="#000" stroke-width="1.1"/>
<line x1="395.2" y1="428.3" x2="395.2" y2="431.3" stroke="#000" stroke-width="1.1"/>
<text x="307.6" y="441.8" font-size="12.2" text-anchor="middle" font-weight="bold" textLength="53.6" lengthAdjust="spacingAndGlyphs">non EAE</text>
<text x="396.65" y="440.1" font-size="12.5" text-anchor="middle" font-weight="bold" textLength="28.6" lengthAdjust="spacingAndGlyphs">peak</text>
<text x="246.4" y="369.4" font-size="13" text-anchor="middle" font-weight="bold" textLength="132" lengthAdjust="spacingAndGlyphs" transform="rotate(-90 246.4 369.4)">Relative mRNA levels</text>
<text x="352" y="296.2" font-size="12.8" text-anchor="middle" font-weight="bold" font-style="italic">Snap25</text>
<polyline points="290.3,314.9 290.3,311.6 377.4,311.6 377.4,314.9" fill="none" stroke="#000" stroke-width="1.3"/>
<path d="M326.27 307.85L326.27 305.2M326.27 307.85L328.79 307.03M326.27 307.85L327.83 310M326.27 307.85L324.71 310M326.27 307.85L323.75 307.03" stroke="#000" stroke-width="1.25" stroke-linecap="butt" fill="none"/>
<path d="M332.4 307.85L332.4 305.2M332.4 307.85L334.92 307.03M332.4 307.85L333.96 310M332.4 307.85L330.84 310M332.4 307.85L329.88 307.03" stroke="#000" stroke-width="1.25" stroke-linecap="butt" fill="none"/>
<path d="M338.53 307.85L338.53 305.2M338.53 307.85L341.05 307.03M338.53 307.85L340.09 310M338.53 307.85L336.97 310M338.53 307.85L336.01 307.03" stroke="#000" stroke-width="1.25" stroke-linecap="butt" fill="none"/>
<polyline points="323.2,341.7 323.2,338.4 409,338.4 409,341.7" fill="none" stroke="#000" stroke-width="1.3"/>
<path d="M365.4 334.65L365.4 332M365.4 334.65L367.92 333.83M365.4 334.65L366.96 336.8M365.4 334.65L363.84 336.8M365.4 334.65L362.88 333.83" stroke="#000" stroke-width="1.25" stroke-linecap="butt" fill="none"/>
<line x1="520.95" y1="423.85" x2="520.95" y2="424.79" stroke="#000" stroke-width="1.2"/>
<line x1="515.55" y1="423.85" x2="526.35" y2="423.85" stroke="#000" stroke-width="1.2"/>
<rect x="510.2" y="425.39" width="21.5" height="2.91" fill="#fff" stroke="#000" stroke-width="1.2"/>
<rect x="543.1" y="426.79" width="21.7" height="1.51" fill="#000" stroke="#000" stroke-width="1.2"/>
<line x1="609.05" y1="324.47" x2="609.05" y2="341.65" stroke="#000" stroke-width="1.2"/>
<line x1="603.65" y1="324.47" x2="614.45" y2="324.47" stroke="#000" stroke-width="1.2"/>
<rect x="598.3" y="342.25" width="21.5" height="86.05" fill="#fff" stroke="#000" stroke-width="1.2"/>
<line x1="642.2" y1="388.88" x2="642.2" y2="400.35" stroke="#000" stroke-width="1.2"/>
<line x1="636.8" y1="388.88" x2="647.6" y2="388.88" stroke="#000" stroke-width="1.2"/>
<rect x="631.5" y="400.95" width="21.4" height="27.35" fill="#000" stroke="#000" stroke-width="1.2"/>
<line x1="493.1" y1="310.6" x2="493.1" y2="428.9" stroke="#000" stroke-width="1.2"/>
<line x1="492.5" y1="428.3" x2="670.1" y2="428.3" stroke="#000" stroke-width="1.2"/>
<line x1="489.9" y1="428.3" x2="493.1" y2="428.3" stroke="#000" stroke-width="1.1"/>
<text x="488.8" y="431.4" font-size="8.6" text-anchor="end" font-weight="bold">0</text>
<line x1="489.9" y1="389.27" x2="493.1" y2="389.27" stroke="#000" stroke-width="1.1"/>
<text x="488.8" y="392.37" font-size="8.6" text-anchor="end" font-weight="bold">5</text>
<line x1="489.9" y1="350.23" x2="493.1" y2="350.23" stroke="#000" stroke-width="1.1"/>
<text x="488.8" y="353.33" font-size="8.6" text-anchor="end" font-weight="bold">10</text>
<line x1="489.9" y1="311.2" x2="493.1" y2="311.2" stroke="#000" stroke-width="1.1"/>
<text x="488.8" y="314.3" font-size="8.6" text-anchor="end" font-weight="bold">15</text>
<line x1="537.2" y1="428.3" x2="537.2" y2="431.3" stroke="#000" stroke-width="1.1"/>
<line x1="625.2" y1="428.3" x2="625.2" y2="431.3" stroke="#000" stroke-width="1.1"/>
<text x="538.2" y="441.8" font-size="12.2" text-anchor="middle" font-weight="bold" textLength="53.6" lengthAdjust="spacingAndGlyphs">non EAE</text>
<text x="627.7" y="440.1" font-size="12.5" text-anchor="middle" font-weight="bold" textLength="28.6" lengthAdjust="spacingAndGlyphs">peak</text>
<text x="474.6" y="369.4" font-size="13" text-anchor="middle" font-weight="bold" textLength="132" lengthAdjust="spacingAndGlyphs" transform="rotate(-90 474.6 369.4)">Relative mRNA levels</text>
<text x="575" y="302.5" font-size="12.8" text-anchor="middle" font-weight="bold" font-style="italic">H2-Ab1</text>
<polyline points="521.5,320.6 521.5,317.3 608.1,317.3 608.1,320.6" fill="none" stroke="#000" stroke-width="1.3"/>
<path d="M566.4 312.95L566.4 310.3M566.4 312.95L568.92 312.13M566.4 312.95L567.96 315.1M566.4 312.95L564.84 315.1M566.4 312.95L563.88 312.13" stroke="#000" stroke-width="1.25" stroke-linecap="butt" fill="none"/>
<rect x="620.6" y="286.9" width="12.3" height="5.4" fill="#fff" stroke="#000" stroke-width="1.2"/>
<rect x="620.0" y="299.9" width="13.5" height="6.6" fill="#000"/>
<text x="638.4" y="293.3" font-size="12.4" text-anchor="start" font-weight="bold" textLength="43.4" lengthAdjust="spacingAndGlyphs">control</text>
<text x="638.4" y="307.4" font-size="12.4" text-anchor="start" font-weight="bold" textLength="68.2" lengthAdjust="spacingAndGlyphs">nTNFR1KO</text>
<text x="102.9" y="480.9" font-size="19" text-anchor="start" font-weight="bold" textLength="19.2" lengthAdjust="spacingAndGlyphs">C.</text>
<line x1="167.4" y1="478.8" x2="167.4" y2="702.9" stroke="#000" stroke-width="1.4"/>
<line x1="166.7" y1="702.2" x2="591.49" y2="702.2" stroke="#000" stroke-width="1.4"/>
<line x1="163.8" y1="702.2" x2="167.4" y2="702.2" stroke="#000" stroke-width="1.1"/>
<text x="162.4" y="705.4" font-size="10.1" text-anchor="end" font-weight="bold">0</text>
<line x1="163.8" y1="646.5" x2="167.4" y2="646.5" stroke="#000" stroke-width="1.1"/>
<text x="162.4" y="649.7" font-size="10.1" text-anchor="end" font-weight="bold">1</text>
<line x1="163.8" y1="590.8" x2="167.4" y2="590.8" stroke="#000" stroke-width="1.1"/>
<text x="162.4" y="594" font-size="10.1" text-anchor="end" font-weight="bold">2</text>
<line x1="163.8" y1="535.1" x2="167.4" y2="535.1" stroke="#000" stroke-width="1.1"/>
<text x="162.4" y="538.3" font-size="10.1" text-anchor="end" font-weight="bold">3</text>
<line x1="163.8" y1="479.4" x2="167.4" y2="479.4" stroke="#000" stroke-width="1.1"/>
<text x="162.4" y="482.6" font-size="10.1" text-anchor="end" font-weight="bold">4</text>
<line x1="167.4" y1="702.2" x2="167.4" y2="705.6" stroke="#000" stroke-width="1.1"/>
<text x="167.4" y="716.9" font-size="10.1" text-anchor="middle" font-weight="bold">0</text>
<line x1="187.57" y1="702.2" x2="187.57" y2="705.6" stroke="#000" stroke-width="1.1"/>
<text x="187.57" y="716.9" font-size="10.1" text-anchor="middle" font-weight="bold">2</text>
<line x1="207.73" y1="702.2" x2="207.73" y2="705.6" stroke="#000" stroke-width="1.1"/>
<text x="207.73" y="716.9" font-size="10.1" text-anchor="middle" font-weight="bold">4</text>
<line x1="227.9" y1="702.2" x2="227.9" y2="705.6" stroke="#000" stroke-width="1.1"/>
<text x="227.9" y="716.9" font-size="10.1" text-anchor="middle" font-weight="bold">6</text>
<line x1="248.06" y1="702.2" x2="248.06" y2="705.6" stroke="#000" stroke-width="1.1"/>
<text x="248.06" y="716.9" font-size="10.1" text-anchor="middle" font-weight="bold">8</text>
<line x1="268.23" y1="702.2" x2="268.23" y2="705.6" stroke="#000" stroke-width="1.1"/>
<text x="268.23" y="716.9" font-size="10.1" text-anchor="middle" font-weight="bold">10</text>
<line x1="288.4" y1="702.2" x2="288.4" y2="705.6" stroke="#000" stroke-width="1.1"/>
<text x="288.4" y="716.9" font-size="10.1" text-anchor="middle" font-weight="bold">12</text>
<line x1="308.56" y1="702.2" x2="308.56" y2="705.6" stroke="#000" stroke-width="1.1"/>
<text x="308.56" y="716.9" font-size="10.1" text-anchor="middle" font-weight="bold">14</text>
<line x1="328.73" y1="702.2" x2="328.73" y2="705.6" stroke="#000" stroke-width="1.1"/>
<text x="328.73" y="716.9" font-size="10.1" text-anchor="middle" font-weight="bold">16</text>
<line x1="348.89" y1="702.2" x2="348.89" y2="705.6" stroke="#000" stroke-width="1.1"/>
<text x="348.89" y="716.9" font-size="10.1" text-anchor="middle" font-weight="bold">18</text>
<line x1="369.06" y1="702.2" x2="369.06" y2="705.6" stroke="#000" stroke-width="1.1"/>
<text x="369.06" y="716.9" font-size="10.1" text-anchor="middle" font-weight="bold">20</text>
<line x1="389.23" y1="702.2" x2="389.23" y2="705.6" stroke="#000" stroke-width="1.1"/>
<text x="389.23" y="716.9" font-size="10.1" text-anchor="middle" font-weight="bold">22</text>
<line x1="409.39" y1="702.2" x2="409.39" y2="705.6" stroke="#000" stroke-width="1.1"/>
<text x="409.39" y="716.9" font-size="10.1" text-anchor="middle" font-weight="bold">24</text>
<line x1="429.56" y1="702.2" x2="429.56" y2="705.6" stroke="#000" stroke-width="1.1"/>
<text x="429.56" y="716.9" font-size="10.1" text-anchor="middle" font-weight="bold">26</text>
<line x1="449.72" y1="702.2" x2="449.72" y2="705.6" stroke="#000" stroke-width="1.1"/>
<text x="449.72" y="716.9" font-size="10.1" text-anchor="middle" font-weight="bold">28</text>
<line x1="469.89" y1="702.2" x2="469.89" y2="705.6" stroke="#000" stroke-width="1.1"/>
<text x="469.89" y="716.9" font-size="10.1" text-anchor="middle" font-weight="bold">30</text>
<line x1="490.06" y1="702.2" x2="490.06" y2="705.6" stroke="#000" stroke-width="1.1"/>
<text x="490.06" y="716.9" font-size="10.1" text-anchor="middle" font-weight="bold">32</text>
<line x1="510.22" y1="702.2" x2="510.22" y2="705.6" stroke="#000" stroke-width="1.1"/>
<text x="510.22" y="716.9" font-size="10.1" text-anchor="middle" font-weight="bold">34</text>
<line x1="530.39" y1="702.2" x2="530.39" y2="705.6" stroke="#000" stroke-width="1.1"/>
<text x="530.39" y="716.9" font-size="10.1" text-anchor="middle" font-weight="bold">36</text>
<line x1="550.55" y1="702.2" x2="550.55" y2="705.6" stroke="#000" stroke-width="1.1"/>
<text x="550.55" y="716.9" font-size="10.1" text-anchor="middle" font-weight="bold">38</text>
<line x1="570.72" y1="702.2" x2="570.72" y2="705.6" stroke="#000" stroke-width="1.1"/>
<text x="570.72" y="716.9" font-size="10.1" text-anchor="middle" font-weight="bold">40</text>
<line x1="590.89" y1="702.2" x2="590.89" y2="705.6" stroke="#000" stroke-width="1.1"/>
<text x="590.89" y="716.9" font-size="10.1" text-anchor="middle" font-weight="bold">42</text>
<line x1="268.23" y1="694.57" x2="268.23" y2="701.25" stroke="#606060" stroke-width="1"/>
<line x1="265.43" y1="694.57" x2="271.03" y2="694.57" stroke="#606060" stroke-width="1"/>
<line x1="265.43" y1="701.25" x2="271.03" y2="701.25" stroke="#606060" stroke-width="1"/>
<line x1="278.31" y1="671.57" x2="278.31" y2="696.07" stroke="#606060" stroke-width="1"/>
<line x1="275.51" y1="671.57" x2="281.11" y2="671.57" stroke="#606060" stroke-width="1"/>
<line x1="275.51" y1="696.07" x2="281.11" y2="696.07" stroke="#606060" stroke-width="1"/>
<line x1="288.4" y1="647.61" x2="288.4" y2="684.38" stroke="#606060" stroke-width="1"/>
<line x1="285.6" y1="647.61" x2="291.2" y2="647.61" stroke="#606060" stroke-width="1"/>
<line x1="285.6" y1="684.38" x2="291.2" y2="684.38" stroke="#606060" stroke-width="1"/>
<line x1="298.48" y1="608.62" x2="298.48" y2="656.53" stroke="#606060" stroke-width="1"/>
<line x1="295.68" y1="608.62" x2="301.28" y2="608.62" stroke="#606060" stroke-width="1"/>
<line x1="295.68" y1="656.53" x2="301.28" y2="656.53" stroke="#606060" stroke-width="1"/>
<line x1="308.56" y1="569.36" x2="308.56" y2="617.26" stroke="#606060" stroke-width="1"/>
<line x1="305.76" y1="569.36" x2="311.36" y2="569.36" stroke="#606060" stroke-width="1"/>
<line x1="305.76" y1="617.26" x2="311.36" y2="617.26" stroke="#606060" stroke-width="1"/>
<line x1="318.64" y1="551.25" x2="318.64" y2="588.01" stroke="#606060" stroke-width="1"/>
<line x1="315.84" y1="551.25" x2="321.44" y2="551.25" stroke="#606060" stroke-width="1"/>
<line x1="315.84" y1="588.01" x2="321.44" y2="588.01" stroke="#606060" stroke-width="1"/>
<line x1="328.73" y1="535.66" x2="328.73" y2="559.05" stroke="#606060" stroke-width="1"/>
<line x1="325.93" y1="535.66" x2="331.53" y2="535.66" stroke="#606060" stroke-width="1"/>
<line x1="325.93" y1="559.05" x2="331.53" y2="559.05" stroke="#606060" stroke-width="1"/>
<line x1="338.81" y1="530.64" x2="338.81" y2="550.7" stroke="#606060" stroke-width="1"/>
<line x1="336.01" y1="530.64" x2="341.61" y2="530.64" stroke="#606060" stroke-width="1"/>
<line x1="336.01" y1="550.7" x2="341.61" y2="550.7" stroke="#606060" stroke-width="1"/>
<line x1="348.89" y1="531.76" x2="348.89" y2="551.81" stroke="#606060" stroke-width="1"/>
<line x1="346.09" y1="531.76" x2="351.69" y2="531.76" stroke="#606060" stroke-width="1"/>
<line x1="346.09" y1="551.81" x2="351.69" y2="551.81" stroke="#606060" stroke-width="1"/>
<line x1="358.98" y1="542.9" x2="358.98" y2="569.63" stroke="#606060" stroke-width="1"/>
<line x1="356.18" y1="542.9" x2="361.78" y2="542.9" stroke="#606060" stroke-width="1"/>
<line x1="356.18" y1="569.63" x2="361.78" y2="569.63" stroke="#606060" stroke-width="1"/>
<line x1="369.06" y1="540.11" x2="369.06" y2="572.42" stroke="#606060" stroke-width="1"/>
<line x1="366.26" y1="540.11" x2="371.86" y2="540.11" stroke="#606060" stroke-width="1"/>
<line x1="366.26" y1="572.42" x2="371.86" y2="572.42" stroke="#606060" stroke-width="1"/>
<line x1="379.14" y1="554.04" x2="379.14" y2="594.14" stroke="#606060" stroke-width="1"/>
<line x1="376.34" y1="554.04" x2="381.94" y2="554.04" stroke="#606060" stroke-width="1"/>
<line x1="376.34" y1="594.14" x2="381.94" y2="594.14" stroke="#606060" stroke-width="1"/>
<line x1="389.23" y1="562.39" x2="389.23" y2="596.93" stroke="#606060" stroke-width="1"/>
<line x1="386.43" y1="562.39" x2="392.03" y2="562.39" stroke="#606060" stroke-width="1"/>
<line x1="386.43" y1="596.93" x2="392.03" y2="596.93" stroke="#606060" stroke-width="1"/>
<line x1="399.31" y1="556.27" x2="399.31" y2="585.23" stroke="#606060" stroke-width="1"/>
<line x1="396.51" y1="556.27" x2="402.11" y2="556.27" stroke="#606060" stroke-width="1"/>
<line x1="396.51" y1="585.23" x2="402.11" y2="585.23" stroke="#606060" stroke-width="1"/>
<line x1="409.39" y1="551.25" x2="409.39" y2="582.45" stroke="#606060" stroke-width="1"/>
<line x1="406.59" y1="551.25" x2="412.19" y2="551.25" stroke="#606060" stroke-width="1"/>
<line x1="406.59" y1="582.45" x2="412.19" y2="582.45" stroke="#606060" stroke-width="1"/>
<line x1="419.48" y1="554.04" x2="419.48" y2="594.14" stroke="#606060" stroke-width="1"/>
<line x1="416.68" y1="554.04" x2="422.28" y2="554.04" stroke="#606060" stroke-width="1"/>
<line x1="416.68" y1="594.14" x2="422.28" y2="594.14" stroke="#606060" stroke-width="1"/>
<line x1="429.56" y1="561.28" x2="429.56" y2="594.7" stroke="#606060" stroke-width="1"/>
<line x1="426.76" y1="561.28" x2="432.36" y2="561.28" stroke="#606060" stroke-width="1"/>
<line x1="426.76" y1="594.7" x2="432.36" y2="594.7" stroke="#606060" stroke-width="1"/>
<line x1="439.64" y1="565.74" x2="439.64" y2="599.16" stroke="#606060" stroke-width="1"/>
<line x1="436.84" y1="565.74" x2="442.44" y2="565.74" stroke="#606060" stroke-width="1"/>
<line x1="436.84" y1="599.16" x2="442.44" y2="599.16" stroke="#606060" stroke-width="1"/>
<line x1="449.72" y1="564.06" x2="449.72" y2="597.48" stroke="#606060" stroke-width="1"/>
<line x1="446.92" y1="564.06" x2="452.52" y2="564.06" stroke="#606060" stroke-width="1"/>
<line x1="446.92" y1="597.48" x2="452.52" y2="597.48" stroke="#606060" stroke-width="1"/>
<line x1="459.81" y1="567.96" x2="459.81" y2="601.38" stroke="#606060" stroke-width="1"/>
<line x1="457.01" y1="567.96" x2="462.61" y2="567.96" stroke="#606060" stroke-width="1"/>
<line x1="457.01" y1="601.38" x2="462.61" y2="601.38" stroke="#606060" stroke-width="1"/>
<line x1="469.89" y1="569.08" x2="469.89" y2="600.27" stroke="#606060" stroke-width="1"/>
<line x1="467.09" y1="569.08" x2="472.69" y2="569.08" stroke="#606060" stroke-width="1"/>
<line x1="467.09" y1="600.27" x2="472.69" y2="600.27" stroke="#606060" stroke-width="1"/>
<line x1="479.97" y1="569.08" x2="479.97" y2="600.27" stroke="#606060" stroke-width="1"/>
<line x1="477.17" y1="569.08" x2="482.77" y2="569.08" stroke="#606060" stroke-width="1"/>
<line x1="477.17" y1="600.27" x2="482.77" y2="600.27" stroke="#606060" stroke-width="1"/>
<line x1="490.06" y1="569.63" x2="490.06" y2="603.05" stroke="#606060" stroke-width="1"/>
<line x1="487.26" y1="569.63" x2="492.86" y2="569.63" stroke="#606060" stroke-width="1"/>
<line x1="487.26" y1="603.05" x2="492.86" y2="603.05" stroke="#606060" stroke-width="1"/>
<line x1="500.14" y1="572.42" x2="500.14" y2="605.84" stroke="#606060" stroke-width="1"/>
<line x1="497.34" y1="572.42" x2="502.94" y2="572.42" stroke="#606060" stroke-width="1"/>
<line x1="497.34" y1="605.84" x2="502.94" y2="605.84" stroke="#606060" stroke-width="1"/>
<line x1="510.22" y1="591.36" x2="510.22" y2="616.98" stroke="#606060" stroke-width="1"/>
<line x1="507.42" y1="591.36" x2="513.02" y2="591.36" stroke="#606060" stroke-width="1"/>
<line x1="507.42" y1="616.98" x2="513.02" y2="616.98" stroke="#606060" stroke-width="1"/>
<line x1="520.31" y1="588.01" x2="520.31" y2="612.52" stroke="#606060" stroke-width="1"/>
<line x1="517.51" y1="588.01" x2="523.11" y2="588.01" stroke="#606060" stroke-width="1"/>
<line x1="517.51" y1="612.52" x2="523.11" y2="612.52" stroke="#606060" stroke-width="1"/>
<line x1="530.39" y1="589.13" x2="530.39" y2="614.75" stroke="#606060" stroke-width="1"/>
<line x1="527.59" y1="589.13" x2="533.19" y2="589.13" stroke="#606060" stroke-width="1"/>
<line x1="527.59" y1="614.75" x2="533.19" y2="614.75" stroke="#606060" stroke-width="1"/>
<line x1="540.47" y1="587.46" x2="540.47" y2="613.08" stroke="#606060" stroke-width="1"/>
<line x1="537.67" y1="587.46" x2="543.27" y2="587.46" stroke="#606060" stroke-width="1"/>
<line x1="537.67" y1="613.08" x2="543.27" y2="613.08" stroke="#606060" stroke-width="1"/>
<line x1="550.55" y1="586.34" x2="550.55" y2="611.97" stroke="#606060" stroke-width="1"/>
<line x1="547.75" y1="586.34" x2="553.35" y2="586.34" stroke="#606060" stroke-width="1"/>
<line x1="547.75" y1="611.97" x2="553.35" y2="611.97" stroke="#606060" stroke-width="1"/>
<polyline points="268.23,697.91 278.31,683.82 288.4,666 298.48,632.58 308.56,593.31 318.64,569.63 328.73,547.35 338.81,540.67 348.89,541.78 358.98,556.27 369.06,556.27 379.14,574.09 389.23,579.66 399.31,570.75 409.39,566.85 419.48,574.09 429.56,577.99 439.64,582.45 449.72,580.77 459.81,584.67 469.89,584.67 479.97,584.67 490.06,586.34 500.14,589.13 510.22,604.17 520.31,600.27 530.39,601.94 540.47,600.27 550.55,599.15" fill="none" stroke="#000" stroke-width="1.5" stroke-linejoin="round"/>
<rect x="265.38" y="695.06" width="5.7" height="5.7" fill="#000"/>
<rect x="275.46" y="680.97" width="5.7" height="5.7" fill="#000"/>
<rect x="285.55" y="663.14" width="5.7" height="5.7" fill="#000"/>
<rect x="295.63" y="629.73" width="5.7" height="5.7" fill="#000"/>
<rect x="305.71" y="590.46" width="5.7" height="5.7" fill="#000"/>
<rect x="315.79" y="566.78" width="5.7" height="5.7" fill="#000"/>
<rect x="325.88" y="544.5" width="5.7" height="5.7" fill="#000"/>
<rect x="335.96" y="537.82" width="5.7" height="5.7" fill="#000"/>
<rect x="346.04" y="538.93" width="5.7" height="5.7" fill="#000"/>
<rect x="356.13" y="553.42" width="5.7" height="5.7" fill="#000"/>
<rect x="366.21" y="553.42" width="5.7" height="5.7" fill="#000"/>
<rect x="376.29" y="571.24" width="5.7" height="5.7" fill="#000"/>
<rect x="386.38" y="576.81" width="5.7" height="5.7" fill="#000"/>
<rect x="396.46" y="567.9" width="5.7" height="5.7" fill="#000"/>
<rect x="406.54" y="564" width="5.7" height="5.7" fill="#000"/>
<rect x="416.62" y="571.24" width="5.7" height="5.7" fill="#000"/>
<rect x="426.71" y="575.14" width="5.7" height="5.7" fill="#000"/>
<rect x="436.79" y="579.6" width="5.7" height="5.7" fill="#000"/>
<rect x="446.87" y="577.92" width="5.7" height="5.7" fill="#000"/>
<rect x="456.96" y="581.82" width="5.7" height="5.7" fill="#000"/>
<rect x="467.04" y="581.82" width="5.7" height="5.7" fill="#000"/>
<rect x="477.12" y="581.82" width="5.7" height="5.7" fill="#000"/>
<rect x="487.21" y="583.49" width="5.7" height="5.7" fill="#000"/>
<rect x="497.29" y="586.28" width="5.7" height="5.7" fill="#000"/>
<rect x="507.37" y="601.32" width="5.7" height="5.7" fill="#000"/>
<rect x="517.46" y="597.42" width="5.7" height="5.7" fill="#000"/>
<rect x="527.54" y="599.09" width="5.7" height="5.7" fill="#000"/>
<rect x="537.62" y="597.42" width="5.7" height="5.7" fill="#000"/>
<rect x="547.7" y="596.3" width="5.7" height="5.7" fill="#000"/>
<line x1="278.31" y1="694.57" x2="278.31" y2="701.25" stroke="#a2a2a2" stroke-width="1"/>
<line x1="275.51" y1="694.57" x2="281.11" y2="694.57" stroke="#a2a2a2" stroke-width="1"/>
<line x1="275.51" y1="701.25" x2="281.11" y2="701.25" stroke="#a2a2a2" stroke-width="1"/>
<line x1="288.4" y1="671.57" x2="288.4" y2="693.85" stroke="#a2a2a2" stroke-width="1"/>
<line x1="285.6" y1="671.57" x2="291.2" y2="671.57" stroke="#a2a2a2" stroke-width="1"/>
<line x1="285.6" y1="693.85" x2="291.2" y2="693.85" stroke="#a2a2a2" stroke-width="1"/>
<line x1="298.48" y1="641.49" x2="298.48" y2="681.59" stroke="#a2a2a2" stroke-width="1"/>
<line x1="295.68" y1="641.49" x2="301.28" y2="641.49" stroke="#a2a2a2" stroke-width="1"/>
<line x1="295.68" y1="681.59" x2="301.28" y2="681.59" stroke="#a2a2a2" stroke-width="1"/>
<line x1="308.56" y1="609.18" x2="308.56" y2="658.2" stroke="#a2a2a2" stroke-width="1"/>
<line x1="305.76" y1="609.18" x2="311.36" y2="609.18" stroke="#a2a2a2" stroke-width="1"/>
<line x1="305.76" y1="658.2" x2="311.36" y2="658.2" stroke="#a2a2a2" stroke-width="1"/>
<line x1="318.64" y1="574.65" x2="318.64" y2="623.66" stroke="#a2a2a2" stroke-width="1"/>
<line x1="315.84" y1="574.65" x2="321.44" y2="574.65" stroke="#a2a2a2" stroke-width="1"/>
<line x1="315.84" y1="623.66" x2="321.44" y2="623.66" stroke="#a2a2a2" stroke-width="1"/>
<line x1="328.73" y1="568.52" x2="328.73" y2="618.65" stroke="#a2a2a2" stroke-width="1"/>
<line x1="325.93" y1="568.52" x2="331.53" y2="568.52" stroke="#a2a2a2" stroke-width="1"/>
<line x1="325.93" y1="618.65" x2="331.53" y2="618.65" stroke="#a2a2a2" stroke-width="1"/>
<line x1="338.81" y1="558.49" x2="338.81" y2="606.4" stroke="#a2a2a2" stroke-width="1"/>
<line x1="336.01" y1="558.49" x2="341.61" y2="558.49" stroke="#a2a2a2" stroke-width="1"/>
<line x1="336.01" y1="606.4" x2="341.61" y2="606.4" stroke="#a2a2a2" stroke-width="1"/>
<line x1="348.89" y1="555.15" x2="348.89" y2="601.94" stroke="#a2a2a2" stroke-width="1"/>
<line x1="346.09" y1="555.15" x2="351.69" y2="555.15" stroke="#a2a2a2" stroke-width="1"/>
<line x1="346.09" y1="601.94" x2="351.69" y2="601.94" stroke="#a2a2a2" stroke-width="1"/>
<line x1="358.98" y1="574.09" x2="358.98" y2="618.65" stroke="#a2a2a2" stroke-width="1"/>
<line x1="356.18" y1="574.09" x2="361.78" y2="574.09" stroke="#a2a2a2" stroke-width="1"/>
<line x1="356.18" y1="618.65" x2="361.78" y2="618.65" stroke="#a2a2a2" stroke-width="1"/>
<line x1="369.06" y1="571.86" x2="369.06" y2="620.88" stroke="#a2a2a2" stroke-width="1"/>
<line x1="366.26" y1="571.86" x2="371.86" y2="571.86" stroke="#a2a2a2" stroke-width="1"/>
<line x1="366.26" y1="620.88" x2="371.86" y2="620.88" stroke="#a2a2a2" stroke-width="1"/>
<line x1="379.14" y1="580.22" x2="379.14" y2="625.89" stroke="#a2a2a2" stroke-width="1"/>
<line x1="376.34" y1="580.22" x2="381.94" y2="580.22" stroke="#a2a2a2" stroke-width="1"/>
<line x1="376.34" y1="625.89" x2="381.94" y2="625.89" stroke="#a2a2a2" stroke-width="1"/>
<line x1="389.23" y1="580.77" x2="389.23" y2="625.33" stroke="#a2a2a2" stroke-width="1"/>
<line x1="386.43" y1="580.77" x2="392.03" y2="580.77" stroke="#a2a2a2" stroke-width="1"/>
<line x1="386.43" y1="625.33" x2="392.03" y2="625.33" stroke="#a2a2a2" stroke-width="1"/>
<line x1="399.31" y1="588.02" x2="399.31" y2="618.09" stroke="#a2a2a2" stroke-width="1"/>
<line x1="396.51" y1="588.02" x2="402.11" y2="588.02" stroke="#a2a2a2" stroke-width="1"/>
<line x1="396.51" y1="618.09" x2="402.11" y2="618.09" stroke="#a2a2a2" stroke-width="1"/>
<line x1="409.39" y1="591.36" x2="409.39" y2="620.32" stroke="#a2a2a2" stroke-width="1"/>
<line x1="406.59" y1="591.36" x2="412.19" y2="591.36" stroke="#a2a2a2" stroke-width="1"/>
<line x1="406.59" y1="620.32" x2="412.19" y2="620.32" stroke="#a2a2a2" stroke-width="1"/>
<line x1="419.48" y1="586.34" x2="419.48" y2="619.76" stroke="#a2a2a2" stroke-width="1"/>
<line x1="416.68" y1="586.34" x2="422.28" y2="586.34" stroke="#a2a2a2" stroke-width="1"/>
<line x1="416.68" y1="619.76" x2="422.28" y2="619.76" stroke="#a2a2a2" stroke-width="1"/>
<line x1="429.56" y1="589.13" x2="429.56" y2="622.55" stroke="#a2a2a2" stroke-width="1"/>
<line x1="426.76" y1="589.13" x2="432.36" y2="589.13" stroke="#a2a2a2" stroke-width="1"/>
<line x1="426.76" y1="622.55" x2="432.36" y2="622.55" stroke="#a2a2a2" stroke-width="1"/>
<line x1="439.64" y1="575.2" x2="439.64" y2="608.62" stroke="#a2a2a2" stroke-width="1"/>
<line x1="436.84" y1="575.2" x2="442.44" y2="575.2" stroke="#a2a2a2" stroke-width="1"/>
<line x1="436.84" y1="608.62" x2="442.44" y2="608.62" stroke="#a2a2a2" stroke-width="1"/>
<line x1="449.72" y1="569.63" x2="449.72" y2="603.05" stroke="#a2a2a2" stroke-width="1"/>
<line x1="446.92" y1="569.63" x2="452.52" y2="569.63" stroke="#a2a2a2" stroke-width="1"/>
<line x1="446.92" y1="603.05" x2="452.52" y2="603.05" stroke="#a2a2a2" stroke-width="1"/>
<line x1="459.81" y1="580.77" x2="459.81" y2="619.76" stroke="#a2a2a2" stroke-width="1"/>
<line x1="457.01" y1="580.77" x2="462.61" y2="580.77" stroke="#a2a2a2" stroke-width="1"/>
<line x1="457.01" y1="619.76" x2="462.61" y2="619.76" stroke="#a2a2a2" stroke-width="1"/>
<line x1="469.89" y1="579.66" x2="469.89" y2="618.65" stroke="#a2a2a2" stroke-width="1"/>
<line x1="467.09" y1="579.66" x2="472.69" y2="579.66" stroke="#a2a2a2" stroke-width="1"/>
<line x1="467.09" y1="618.65" x2="472.69" y2="618.65" stroke="#a2a2a2" stroke-width="1"/>
<line x1="479.97" y1="590.8" x2="479.97" y2="629.79" stroke="#a2a2a2" stroke-width="1"/>
<line x1="477.17" y1="590.8" x2="482.77" y2="590.8" stroke="#a2a2a2" stroke-width="1"/>
<line x1="477.17" y1="629.79" x2="482.77" y2="629.79" stroke="#a2a2a2" stroke-width="1"/>
<line x1="490.06" y1="591.91" x2="490.06" y2="628.68" stroke="#a2a2a2" stroke-width="1"/>
<line x1="487.26" y1="591.91" x2="492.86" y2="591.91" stroke="#a2a2a2" stroke-width="1"/>
<line x1="487.26" y1="628.68" x2="492.86" y2="628.68" stroke="#a2a2a2" stroke-width="1"/>
<line x1="500.14" y1="594.7" x2="500.14" y2="633.69" stroke="#a2a2a2" stroke-width="1"/>
<line x1="497.34" y1="594.7" x2="502.94" y2="594.7" stroke="#a2a2a2" stroke-width="1"/>
<line x1="497.34" y1="633.69" x2="502.94" y2="633.69" stroke="#a2a2a2" stroke-width="1"/>
<line x1="510.22" y1="611.41" x2="510.22" y2="644.83" stroke="#a2a2a2" stroke-width="1"/>
<line x1="507.42" y1="611.41" x2="513.02" y2="611.41" stroke="#a2a2a2" stroke-width="1"/>
<line x1="507.42" y1="644.83" x2="513.02" y2="644.83" stroke="#a2a2a2" stroke-width="1"/>
<line x1="520.31" y1="606.95" x2="520.31" y2="640.37" stroke="#a2a2a2" stroke-width="1"/>
<line x1="517.51" y1="606.95" x2="523.11" y2="606.95" stroke="#a2a2a2" stroke-width="1"/>
<line x1="517.51" y1="640.37" x2="523.11" y2="640.37" stroke="#a2a2a2" stroke-width="1"/>
<line x1="530.39" y1="608.62" x2="530.39" y2="642.04" stroke="#a2a2a2" stroke-width="1"/>
<line x1="527.59" y1="608.62" x2="533.19" y2="608.62" stroke="#a2a2a2" stroke-width="1"/>
<line x1="527.59" y1="642.04" x2="533.19" y2="642.04" stroke="#a2a2a2" stroke-width="1"/>
<line x1="540.47" y1="609.74" x2="540.47" y2="643.16" stroke="#a2a2a2" stroke-width="1"/>
<line x1="537.67" y1="609.74" x2="543.27" y2="609.74" stroke="#a2a2a2" stroke-width="1"/>
<line x1="537.67" y1="643.16" x2="543.27" y2="643.16" stroke="#a2a2a2" stroke-width="1"/>
<line x1="550.55" y1="609.18" x2="550.55" y2="642.6" stroke="#a2a2a2" stroke-width="1"/>
<line x1="547.75" y1="609.18" x2="553.35" y2="609.18" stroke="#a2a2a2" stroke-width="1"/>
<line x1="547.75" y1="642.6" x2="553.35" y2="642.6" stroke="#a2a2a2" stroke-width="1"/>
<polyline points="268.23,702.2 278.31,697.91 288.4,682.71 298.48,661.54 308.56,633.69 318.64,599.15 328.73,593.59 338.81,582.45 348.89,578.55 358.98,596.37 369.06,596.37 379.14,603.05 389.23,603.05 399.31,603.05 409.39,605.84 419.48,603.05 429.56,605.84 439.64,591.91 449.72,586.34 459.81,600.27 469.89,599.15 479.97,610.3 490.06,610.3 500.14,614.19 510.22,628.12 520.31,623.66 530.39,625.33 540.47,626.45 550.55,625.89" fill="none" stroke="#848484" stroke-width="1.4" stroke-linejoin="round"/>
<circle cx="268.23" cy="702.2" r="2.9" fill="#7e7e7e"/>
<circle cx="278.31" cy="697.91" r="2.9" fill="#7e7e7e"/>
<circle cx="288.4" cy="682.71" r="2.9" fill="#7e7e7e"/>
<circle cx="298.48" cy="661.54" r="2.9" fill="#7e7e7e"/>
<circle cx="308.56" cy="633.69" r="2.9" fill="#7e7e7e"/>
<circle cx="318.64" cy="599.15" r="2.9" fill="#7e7e7e"/>
<circle cx="328.73" cy="593.59" r="2.9" fill="#7e7e7e"/>
<circle cx="338.81" cy="582.45" r="2.9" fill="#7e7e7e"/>
<circle cx="348.89" cy="578.55" r="2.9" fill="#7e7e7e"/>
<circle cx="358.98" cy="596.37" r="2.9" fill="#7e7e7e"/>
<circle cx="369.06" cy="596.37" r="2.9" fill="#7e7e7e"/>
<circle cx="379.14" cy="603.05" r="2.9" fill="#7e7e7e"/>
<circle cx="389.23" cy="603.05" r="2.9" fill="#7e7e7e"/>
<circle cx="399.31" cy="603.05" r="2.9" fill="#7e7e7e"/>
<circle cx="409.39" cy="605.84" r="2.9" fill="#7e7e7e"/>
<circle cx="419.48" cy="603.05" r="2.9" fill="#7e7e7e"/>
<circle cx="429.56" cy="605.84" r="2.9" fill="#7e7e7e"/>
<circle cx="439.64" cy="591.91" r="2.9" fill="#7e7e7e"/>
<circle cx="449.72" cy="586.34" r="2.9" fill="#7e7e7e"/>
<circle cx="459.81" cy="600.27" r="2.9" fill="#7e7e7e"/>
<circle cx="469.89" cy="599.15" r="2.9" fill="#7e7e7e"/>
<circle cx="479.97" cy="610.3" r="2.9" fill="#7e7e7e"/>
<circle cx="490.06" cy="610.3" r="2.9" fill="#7e7e7e"/>
<circle cx="500.14" cy="614.19" r="2.9" fill="#7e7e7e"/>
<circle cx="510.22" cy="628.12" r="2.9" fill="#7e7e7e"/>
<circle cx="520.31" cy="623.66" r="2.9" fill="#7e7e7e"/>
<circle cx="530.39" cy="625.33" r="2.9" fill="#7e7e7e"/>
<circle cx="540.47" cy="626.45" r="2.9" fill="#7e7e7e"/>
<circle cx="550.55" cy="625.89" r="2.9" fill="#7e7e7e"/>
<text x="149.4" y="601.8" font-size="13" text-anchor="middle" font-weight="bold" textLength="120" lengthAdjust="spacingAndGlyphs" transform="rotate(-90 149.4 601.8)">Mean clinical score</text>
<text x="292" y="735.3" font-size="13" text-anchor="start" font-weight="bold" textLength="152.6" lengthAdjust="spacingAndGlyphs">Days post-immunization</text>
<line x1="452.2" y1="498.3" x2="466.9" y2="498.3" stroke="#000" stroke-width="1.4"/>
<rect x="457.3" y="495.8" width="5" height="5" fill="#000"/>
<line x1="452.2" y1="517.2" x2="466.9" y2="517.2" stroke="#848484" stroke-width="1.4"/>
<circle cx="459.6" cy="517.2" r="2.8" fill="#7e7e7e"/>
<text x="470" y="502.4" font-size="12.6" text-anchor="start" font-weight="bold" textLength="43.5" lengthAdjust="spacingAndGlyphs">control</text>
<text x="470" y="521.4" font-size="12.6" text-anchor="start" font-weight="bold" textLength="68.6" lengthAdjust="spacingAndGlyphs">nTNFR2KO</text>
</svg></body></html>
